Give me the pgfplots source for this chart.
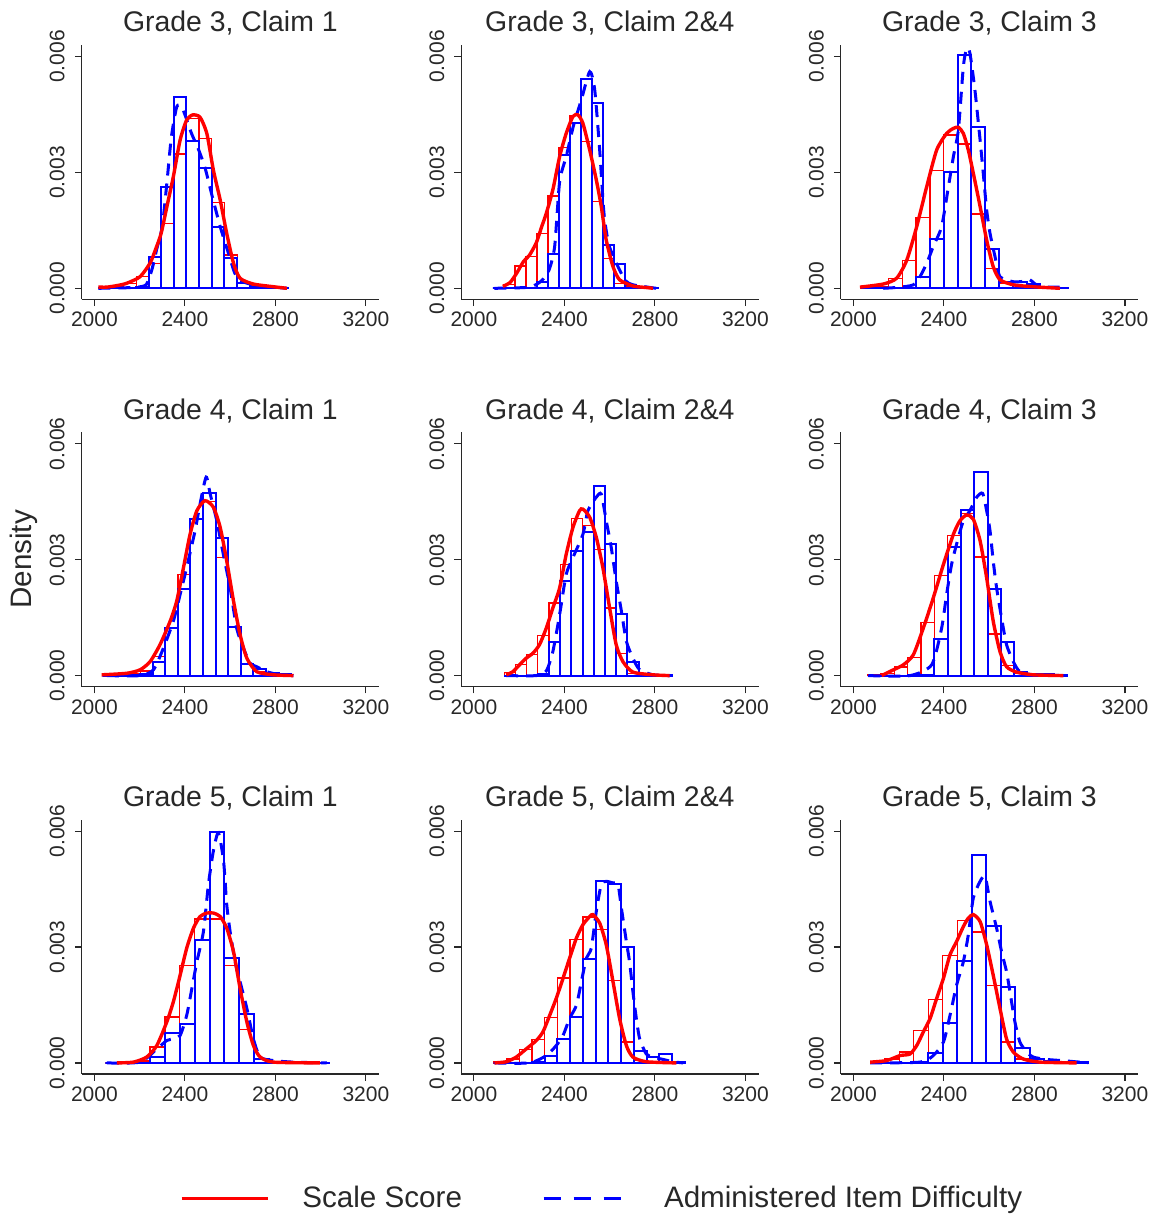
\documentclass[border=0pt]{standalone}
\usepackage{fontspec}
\setmainfont{Liberation Sans}
\usepackage{pgfplots}
\pgfplotsset{compat=1.18}
\usepgfplotslibrary{groupplots}
\definecolor{axgray}{RGB}{40,40,40}
\begin{document}
\begin{tikzpicture}
\pgfplotsset{
  redbar/.style={ybar interval, draw=red, fill=none, line width=0.65pt, forget plot},
  bluebar/.style={ybar interval, draw=blue, fill=none, line width=1.0pt, forget plot},
  redcurve/.style={draw=red, line width=1.7pt, smooth, tension=0.4, mark=none, forget plot},
  bluecurve/.style={draw=blue, line width=1.5pt, dash pattern=on 6pt off 4pt, smooth, tension=0.4, mark=none, forget plot},
}
\begin{groupplot}[
  group style={group name=G, group size=3 by 3, horizontal sep=41.1pt, vertical sep=66.5pt},
  scale only axis, width=148.65pt, height=127.15pt,
  xmin=1944, xmax=3258, ymin=-0.000285, ymax=0.0063,
  xtick={2000,2400,2800,3200}, ytick={0,0.003,0.006},
  axis lines=left, axis line style={-, draw=axgray, line width=0.6pt},
  tick align=outside, major tick length=3.4pt,
  tick style={draw=axgray, line width=0.6pt},
  minor tick num=0,
  scaled y ticks=false,
  /pgf/number format/assume math mode=true,
  xticklabel style={/pgf/number format/1000 sep={}, font=\fontsize{10.5}{12}\selectfont, text=axgray, anchor=north, inner sep=0pt},
  yticklabel style={/pgf/number format/fixed, /pgf/number format/fixed zerofill, /pgf/number format/precision=3, font=\fontsize{10.5}{12}\selectfont, text=axgray, rotate=90, anchor=south, inner sep=0pt},
  xticklabel shift=2.9pt, yticklabel shift=4.9pt,
  title style={font=\fontsize{14.2}{17}\selectfont, text=axgray, at={(0.5,1)}, anchor=base, yshift=0.6pt, inner sep=0pt},
  clip=false,
]
% ---------------- Grade 3, Claim 1
\nextgroupplot[title={Grade 3, Claim 1}]
\coordinate (TL) at (rel axis cs:0,1);
\addplot[redbar] coordinates {(2018,0.00002) (2074,0.00004) (2130,0.00012) (2186,0.0003) (2242,0.00065) (2295,0.00167) (2350,0.00348) (2406,0.0044) (2463,0.00388) (2519,0.00223) (2575,0.00086) (2632,0.00015) (2688,0.00008) (2744,0.00003) (2800,0.00001) (2856,0)};
\addplot[bluebar] coordinates {(2018,0) (2074,0) (2130,0.00001) (2186,0.00003) (2242,0.00082) (2295,0.00263) (2350,0.00496) (2406,0.00382) (2463,0.00311) (2519,0.00158) (2575,0.00078) (2632,0.00013) (2688,0.00004) (2744,0.00002) (2800,0.00001) (2856,0)};
\addplot[bluecurve] coordinates {(2018,0) (2120,0.00001) (2190,0.00003) (2230,0.0001) (2255,0.0005) (2275,0.0010) (2300,0.0016) (2320,0.0027) (2340,0.0039) (2364,0.0047) (2385,0.0047) (2400,0.0045) (2430,0.0040) (2460,0.0036) (2490,0.0031) (2520,0.0024) (2556,0.0016) (2593,0.0009) (2620,0.0004) (2644,0.0002) (2703,0.00009) (2792,0.00003) (2851,0)};
\addplot[redcurve] coordinates {(2018,0.00003) (2055,0.00003) (2100,0.00007) (2143,0.00013) (2202,0.0003) (2246,0.00065) (2270,0.001) (2295,0.00142) (2320,0.0021) (2349,0.00289) (2379,0.00384) (2408,0.00436) (2435,0.00449) (2467,0.00443) (2497,0.00401) (2526,0.00306) (2556,0.00229) (2585,0.00142) (2615,0.00065) (2644,0.00026) (2703,0.00011) (2792,0.00004) (2851,0)};
% ---------------- Grade 3, Claim 2&4
\nextgroupplot[title={Grade 3, Claim 2\&4}]
\addplot[redbar] coordinates {(2132.8,0.0001) (2181.4,0.00058) (2230,0.00082) (2278.6,0.00141) (2327.2,0.00239) (2375.8,0.00364) (2424.4,0.00447) (2473,0.0038) (2521.6,0.00224) (2570.2,0.00078) (2618.8,0.00013) (2667.4,0.00003) (2716,0.00001) (2764.6,0.00001) (2813.2,0)};
\addplot[bluebar] coordinates {(2084.2,0) (2132.8,0) (2181.4,0) (2230,0.00001) (2278.6,0.00015) (2327.2,0.00089) (2375.8,0.00345) (2424.4,0.00427) (2473,0.00542) (2521.6,0.00479) (2570.2,0.00112) (2618.8,0.00062) (2667.4,0.00009) (2716,0.00003) (2764.6,0.00002) (2813.2,0)};
\addplot[bluecurve] coordinates {(2091,0) (2246,0.00003) (2300,0.0002) (2332,0.00047) (2357,0.00108) (2379,0.00276) (2408,0.00341) (2441,0.00423) (2475,0.00488) (2512,0.00561) (2534,0.00514) (2556,0.00358) (2575,0.00194) (2597,0.00112) (2637,0.00056) (2670,0.0002) (2703,0.00009) (2806,0)};
\addplot[redcurve] coordinates {(2128,0.00005) (2160,0.00015) (2190,0.0004) (2220,0.0007) (2245,0.00085) (2276,0.00118) (2300,0.0016) (2320,0.00194) (2349,0.00255) (2379,0.00341) (2408,0.00401) (2438,0.00445) (2460,0.00449) (2482,0.00427) (2512,0.00358) (2541,0.00281) (2563,0.00212) (2585,0.00125) (2615,0.00056) (2644,0.00022) (2703,0.00006) (2762,0.00002) (2792,0)};
% ---------------- Grade 3, Claim 3
\nextgroupplot[title={Grade 3, Claim 3}]
\addplot[redbar] coordinates {(2032.6,0.00003) (2093.7,0.00005) (2154.8,0.00026) (2215.9,0.00072) (2277,0.00184) (2338.1,0.00305) (2399.2,0.00397) (2460.3,0.00374) (2521.4,0.00192) (2582.5,0.00052) (2643.6,0.00013) (2704.7,0.00007) (2765.8,0.00004) (2826.9,0.00001) (2888,0)};
\addplot[bluebar] coordinates {(2032.6,0) (2093.7,0) (2154.8,0) (2215.9,0.00001) (2277,0.0003) (2338.1,0.00127) (2399.2,0.003) (2460.3,0.00603) (2521.4,0.00417) (2582.5,0.00102) (2643.6,0.00017) (2704.7,0.00015) (2765.8,0.00012) (2826.9,0.00003) (2888,0.00002) (2949.1,0)};
\addplot[bluecurve] coordinates {(2132,0) (2265,0.00009) (2317,0.00056) (2353,0.00108) (2390,0.0016) (2420,0.00263) (2442,0.00341) (2464,0.0041) (2486,0.00574) (2501,0.00622) (2515,0.00609) (2537,0.00514) (2560,0.00384) (2574,0.00298) (2589,0.00203) (2604,0.00142) (2626,0.00082) (2648,0.0003) (2707,0.00017) (2750,0.00018) (2780,0.00022) (2825,0.00004) (2942,0.00003)};
\addplot[redcurve] coordinates {(2029,0.00003) (2132,0.00011) (2191,0.00026) (2236,0.00073) (2280,0.0016) (2324,0.00263) (2368,0.00358) (2412,0.00401) (2442,0.00414) (2464,0.00417) (2486,0.00401) (2508,0.00358) (2530,0.00298) (2560,0.00212) (2589,0.00125) (2618,0.00056) (2648,0.00022) (2707,0.00009) (2795,0.00004) (2913,0)};
% ---------------- Grade 4, Claim 1
\nextgroupplot[title={Grade 4, Claim 1}, ylabel={Density},
  ylabel style={font=\fontsize{14.8}{17}\selectfont, text=axgray, at={(axis description cs:0,0.5)}, anchor=base, yshift=25.3pt, inner sep=0pt}]
\addplot[redbar] coordinates {(2035.6,0.00002) (2091.2,0.00004) (2146.8,0.00005) (2202.4,0.00012) (2258,0.00049) (2313.6,0.00125) (2369.2,0.00262) (2424.8,0.00405) (2480.4,0.0045) (2536,0.00305) (2591.6,0.00125) (2647.2,0.00028) (2702.8,0.0001) (2758.4,0.00003) (2814,0.00001) (2869.6,0)};
\addplot[bluebar] coordinates {(2035.6,0) (2091.2,0.00001) (2146.8,0.00001) (2202.4,0.00004) (2258,0.00035) (2313.6,0.00123) (2369.2,0.00225) (2424.8,0.00405) (2480.4,0.00472) (2536,0.00356) (2591.6,0.00125) (2647.2,0.0003) (2702.8,0.00017) (2758.4,0.00006) (2814,0.00003) (2869.6,0)};
\addplot[bluecurve] coordinates {(2055,0) (2202,0) (2261,0.00015) (2305,0.00071) (2349,0.00141) (2379,0.0021) (2408,0.0028) (2445,0.00375) (2467,0.00444) (2494,0.00514) (2512,0.0047) (2541,0.00401) (2570,0.00314) (2600,0.00227) (2629,0.00123) (2659,0.00071) (2688,0.00032) (2718,0.00023) (2762,0.0001) (2821,0.00002) (2880,0)};
\addplot[redcurve] coordinates {(2032,0.00002) (2143,0.00006) (2202,0.00015) (2246,0.00036) (2290,0.0008) (2335,0.00141) (2364,0.00193) (2394,0.0028) (2423,0.00366) (2453,0.00427) (2489,0.00453) (2526,0.00436) (2556,0.00384) (2585,0.00297) (2615,0.00193) (2644,0.00106) (2674,0.00045) (2718,0.0001) (2792,0.00002) (2880,0)};
% ---------------- Grade 4, Claim 2&4
\nextgroupplot[title={Grade 4, Claim 2\&4}]
\addplot[redbar] coordinates {(2134,0.00008) (2183.5,0.00029) (2233,0.00054) (2282.5,0.00104) (2332,0.00188) (2381.5,0.00288) (2431,0.00407) (2480.5,0.00388) (2530,0.00327) (2579.5,0.00175) (2629,0.00058) (2678.5,0.00006) (2728,0.00002) (2777.5,0.00001) (2827,0.00001) (2876.5,0)};
\addplot[bluebar] coordinates {(2134,0) (2183.5,0) (2233,0) (2282.5,0.00003) (2332,0.00087) (2381.5,0.00244) (2431,0.00322) (2480.5,0.00372) (2530,0.00492) (2579.5,0.0034) (2629,0.0016) (2678.5,0.00036) (2728,0.00002) (2777.5,0.00002) (2827,0.00001) (2876.5,0)};
\addplot[bluecurve] coordinates {(2143,0) (2276,0) (2320,0.00012) (2349,0.00062) (2379,0.00158) (2408,0.00262) (2438,0.00306) (2482,0.00366) (2504,0.00427) (2541,0.00462) (2563,0.0047) (2585,0.00401) (2607,0.00332) (2629,0.00245) (2652,0.00167) (2674,0.00089) (2703,0.00045) (2733,0.00015) (2792,0.00002) (2865,0)};
\addplot[redcurve] coordinates {(2143,0.00002) (2172,0.0001) (2202,0.00028) (2231,0.00045) (2261,0.00058) (2290,0.0008) (2320,0.00123) (2349,0.00175) (2379,0.00227) (2408,0.00314) (2438,0.00384) (2467,0.00427) (2482,0.00431) (2512,0.0041) (2541,0.00358) (2570,0.0028) (2600,0.00175) (2629,0.0008) (2659,0.00036) (2703,0.00009) (2792,0.00002) (2865,0)};
% ---------------- Grade 4, Claim 3
\nextgroupplot[title={Grade 4, Claim 3}]
\addplot[redbar] coordinates {(2063.8,0.00002) (2122.6,0.00005) (2181.4,0.00022) (2240.2,0.00047) (2299,0.00138) (2357.8,0.00259) (2416.6,0.00362) (2475.4,0.0042) (2534.2,0.00307) (2593,0.00108) (2651.8,0.00026) (2710.6,0.00005) (2769.4,0.00002) (2828.2,0.00001) (2887,0)};
\addplot[bluebar] coordinates {(2063.8,0) (2122.6,0) (2181.4,0) (2240.2,0.00001) (2299,0.00002) (2357.8,0.00094) (2416.6,0.00334) (2475.4,0.00428) (2534.2,0.00527) (2593,0.00225) (2651.8,0.00088) (2710.6,0.0001) (2769.4,0.00003) (2828.2,0.00004) (2887,0.00002) (2945.8,0)};
\addplot[bluecurve] coordinates {(2066,0) (2250,0) (2346,0.00028) (2390,0.00123) (2412,0.0021) (2434,0.00288) (2456,0.0034) (2486,0.00401) (2515,0.00427) (2545,0.00462) (2571,0.00472) (2589,0.00427) (2604,0.00375) (2618,0.00297) (2633,0.00227) (2655,0.00149) (2677,0.0008) (2707,0.00036) (2736,0.0001) (2795,0.00002) (2942,0)};
\addplot[redcurve] coordinates {(2125,0) (2177,0.00015) (2221,0.00028) (2265,0.00054) (2309,0.00123) (2353,0.00201) (2398,0.00288) (2442,0.00366) (2471,0.00401) (2501,0.00416) (2530,0.00405) (2560,0.00349) (2589,0.00253) (2618,0.00141) (2648,0.00062) (2677,0.00023) (2721,0.00009) (2795,0.00002) (2928,0)};
% ---------------- Grade 5, Claim 1
\nextgroupplot[title={Grade 5, Claim 1}]
\addplot[redbar] coordinates {(2048.6,0) (2114.4,0.00002) (2180.2,0.00005) (2246,0.00041) (2311.8,0.00119) (2377.6,0.00252) (2443.4,0.00373) (2509.2,0.00373) (2575,0.00252) (2640.8,0.00087) (2706.6,0.0001) (2772.4,0.00002) (2838.2,0.00001) (2904,0.00001) (2969.8,0.00001) (3035.6,0)};
\addplot[bluebar] coordinates {(2048.6,0) (2114.4,0) (2180.2,0.00001) (2246,0.00015) (2311.8,0.00077) (2377.6,0.00102) (2443.4,0.00318) (2509.2,0.00598) (2575,0.00272) (2640.8,0.00126) (2706.6,0.0001) (2772.4,0.00003) (2838.2,0.00001) (2904,0.00002) (2969.8,0.00001) (3035.6,0)};
\addplot[bluecurve] coordinates {(2055,0) (2202,0.00002) (2276,0.00036) (2320,0.00058) (2349,0.00062) (2379,0.00071) (2408,0.00123) (2431,0.00193) (2453,0.00262) (2482,0.0034) (2504,0.00462) (2526,0.00549) (2548,0.00596) (2571,0.00523) (2585,0.0041) (2600,0.0034) (2622,0.00262) (2644,0.0021) (2674,0.00141) (2703,0.00062) (2733,0.00015) (2792,0.00006) (2880,0.00002) (3027,0)};
\addplot[redcurve] coordinates {(2099,0) (2172,0.00002) (2231,0.00015) (2276,0.00045) (2320,0.00106) (2349,0.00158) (2379,0.00227) (2408,0.00297) (2438,0.00349) (2467,0.00379) (2497,0.00388) (2526,0.00388) (2556,0.00379) (2585,0.00349) (2615,0.00288) (2644,0.00193) (2674,0.00106) (2703,0.00045) (2733,0.00015) (2792,0.00002) (2998,0)};
% ---------------- Grade 5, Claim 2&4
\nextgroupplot[title={Grade 5, Claim 2\&4},
  legend style={at={(0.4704,-0.49)}, anchor=center, draw=none, fill=none, legend columns=2,
     font=\fontsize{14.8}{17}\selectfont, text=axgray, nodes={inner sep=0pt},
     /tikz/every odd column/.append style={column sep=16.5pt},
     /tikz/every even column/.append style={column sep=40pt}},
  legend image code/.code={\draw[#1] (0pt,0pt) -- (43pt,0pt);}]
\addplot[redbar] coordinates {(2087.6,0.00002) (2143.9,0.0001) (2200.2,0.00035) (2256.5,0.0006) (2312.8,0.00117) (2369.1,0.0022) (2425.4,0.00319) (2481.7,0.00378) (2538,0.00346) (2594.3,0.00213) (2650.6,0.00054) (2706.9,0.00006) (2763.2,0.00002) (2819.5,0.00001) (2875.8,0)};
\addplot[bluebar] coordinates {(2087.6,0) (2143.9,0) (2200.2,0.00001) (2256.5,0.00003) (2312.8,0.00019) (2369.1,0.00061) (2425.4,0.00119) (2481.7,0.0027) (2538,0.00472) (2594.3,0.00464) (2650.6,0.003) (2706.9,0.0003) (2763.2,0.00016) (2819.5,0.00022) (2875.8,0.00002) (2932.1,0)};
\addplot[bluecurve] coordinates {(2091,0) (2246,0) (2320,0.00019) (2364,0.00045) (2394,0.00071) (2423,0.00115) (2453,0.00149) (2475,0.0021) (2497,0.00271) (2519,0.00297) (2541,0.00392) (2563,0.00462) (2585,0.0047) (2615,0.00466) (2637,0.00462) (2652,0.00401) (2674,0.00314) (2688,0.00262) (2703,0.00184) (2718,0.00115) (2733,0.00062) (2762,0.00023) (2792,0.00015) (2836,0.00009) (2880,0.00003) (2924,0)};
\addplot[redcurve] coordinates {(2091,0) (2143,0.00003) (2187,0.00015) (2231,0.00036) (2276,0.00058) (2305,0.0008) (2335,0.00123) (2364,0.00167) (2394,0.00219) (2423,0.00271) (2453,0.00323) (2482,0.00358) (2512,0.00379) (2526,0.00384) (2556,0.00362) (2585,0.00306) (2615,0.0021) (2644,0.00115) (2674,0.00045) (2703,0.00015) (2762,0.00003) (2895,0)};
\addlegendimage{red, line width=1.7pt}
\addlegendentry{Scale Score}
\addlegendimage{blue, line width=1.5pt, dash pattern=on 8.5pt off 6.5pt}
\addlegendentry{Administered Item Difficulty}
% ---------------- Grade 5, Claim 3
\nextgroupplot[title={Grade 5, Claim 3}]
\coordinate (BR) at (rel axis cs:1,0);
\addplot[redbar] coordinates {(2075,0.00003) (2139,0.0001) (2203,0.00028) (2267,0.00083) (2331,0.00165) (2395,0.00278) (2459,0.00369) (2523,0.00339) (2587,0.002) (2651,0.00054) (2715,0.0001) (2779,0.00003) (2843,0.00002) (2907,0.00001) (2971,0)};
\addplot[bluebar] coordinates {(2075,0) (2139,0) (2203,0) (2267,0.00002) (2331,0.00026) (2395,0.00104) (2459,0.00264) (2523,0.00539) (2587,0.00354) (2651,0.00196) (2715,0.00038) (2779,0.00009) (2843,0.00006) (2907,0.00002) (2971,0.00002) (3035,0)};
\addplot[bluecurve] coordinates {(2074,0) (2294,0.00002) (2353,0.00019) (2398,0.00054) (2427,0.00123) (2456,0.00201) (2486,0.00262) (2508,0.00332) (2530,0.00427) (2560,0.0047) (2582,0.00483) (2604,0.00418) (2633,0.00349) (2655,0.00288) (2677,0.00236) (2692,0.00184) (2714,0.00106) (2736,0.00054) (2766,0.00028) (2795,0.00015) (2854,0.00009) (2942,0.00005) (3038,0)};
\addplot[redcurve] coordinates {(2074,0.00002) (2147,0.00006) (2206,0.00019) (2250,0.00023) (2280,0.00045) (2309,0.0008) (2339,0.00115) (2368,0.00167) (2398,0.00219) (2427,0.0028) (2456,0.00314) (2486,0.00353) (2508,0.00375) (2530,0.00384) (2560,0.00366) (2589,0.00306) (2618,0.00227) (2648,0.00141) (2677,0.00062) (2707,0.00028) (2751,0.0001) (2825,0.00002) (2987,0)};
\end{groupplot}
\pgfresetboundingbox
\path[use as bounding box] ([shift={(-40.85pt,22.5pt)}]TL) rectangle ([shift={(9.5pt,-73.05pt)}]BR);
\end{tikzpicture}
\end{document}
